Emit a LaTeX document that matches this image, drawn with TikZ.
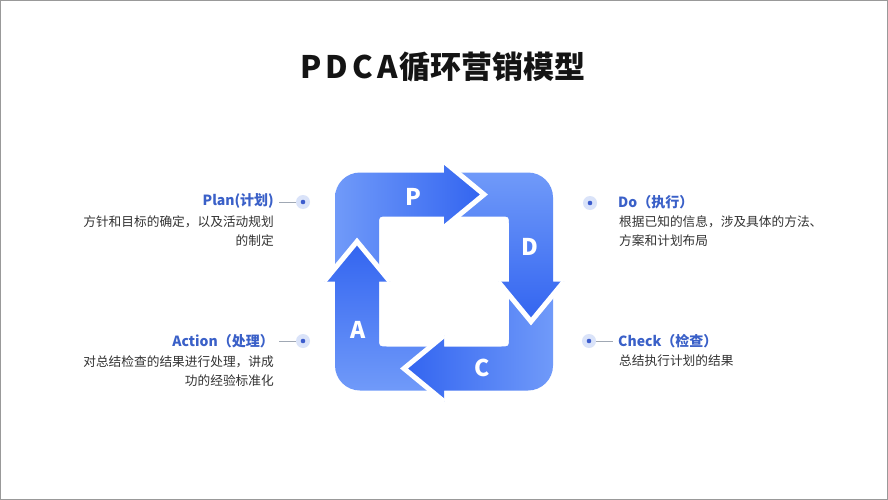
\documentclass[tikz,border=0pt]{standalone}
\usepackage{fontspec}
\setmainfont{Noto Sans CJK SC}
\definecolor{ringlight}{RGB}{112,154,249}
\definecolor{ringdark}{RGB}{50,100,240}
\definecolor{lblblue}{RGB}{58,96,200}
\definecolor{desc}{RGB}{51,51,51}
\definecolor{halo}{RGB}{218,227,249}
\definecolor{dotc}{RGB}{60,92,205}
\definecolor{linec}{RGB}{160,168,180}
\tikzset{
  seg/.style={draw=none},
  cut/.style={draw=white,line width=5pt,line join=miter,miter limit=10},
  letter/.style={text=white,font=\fontsize{23}{23}\selectfont\bfseries,inner sep=0pt},
  head/.style={text=lblblue,font=\fontsize{14}{16}\selectfont\bfseries,inner sep=0pt},
  descr/.style={text=desc,font=\fontsize{12.7}{19}\selectfont,inner sep=0pt},
  halodot/.style={circle,fill=halo,minimum size=14pt,inner sep=0pt},
  coredot/.style={circle,fill=dotc,minimum size=4.6pt,inner sep=0pt},
  leader/.style={draw=linec,line width=0.7pt}
}
\begin{document}
\begin{tikzpicture}[x=1pt,y=-1pt]
\useasboundingbox (0,0) rectangle (888,500);
\fill[white] (0,0) rectangle (888,500);
\draw[gray!80,line width=0.8pt] (0.4,0.4) rectangle (887.6,499.6);

% title
\node[font=\fontsize{31}{31}\selectfont\bfseries,text=black!92,inner sep=0pt] (title) at (443,67) {P\kern4ptD\kern4ptC\kern4ptA\kern2pt循环营销模型};

\begin{scope}[shift={(444,281.5)}]
% P segment (top)
\shade[seg,left color=ringlight,right color=ringdark]
 (-109,-15) -- (-87,-40) -- (-65,-15) -- (-65,-57) .. controls (-65,-65) .. (-57,-65) -- (0,-65) -- (0,-54) -- (40,-87) -- (0,-120) -- (0,-109) -- (-84,-109) .. controls (-97.8,-109) and (-109,-97.8) .. (-109,-84) -- cycle;
% D segment (right)
\shade[seg,top color=ringlight,bottom color=ringdark]
 (15,-109) -- (40,-87) -- (15,-65) -- (57,-65) .. controls (65,-65) .. (65,-57) -- (65,0) -- (54,0) -- (87,40) -- (120,0) -- (109,0) -- (109,-84) .. controls (109,-97.8) and (97.8,-109) .. (84,-109) -- cycle;
% C segment (bottom)
\shade[seg,right color=ringlight,left color=ringdark]
 (109,15) -- (87,40) -- (65,15) -- (65,57) .. controls (65,65) .. (57,65) -- (0,65) -- (0,54) -- (-40,87) -- (0,120) -- (0,109) -- (84,109) .. controls (97.8,109) and (109,97.8) .. (109,84) -- cycle;
% A segment (left)
\shade[seg,bottom color=ringlight,top color=ringdark]
 (-15,109) -- (-40,87) -- (-15,65) -- (-57,65) .. controls (-65,65) .. (-65,57) -- (-65,0) -- (-54,0) -- (-87,-40) -- (-120,0) -- (-109,0) -- (-109,84) .. controls (-109,97.8) and (-97.8,109) .. (-84,109) -- cycle;
% white cuts along the arrow heads
\coordinate (pt) at (40,-87);
\coordinate (dt) at (87,40);
\coordinate (ct) at (-40,87);
\coordinate (at) at (-87,-40);
\draw[cut] (0,-120) -- (pt) -- (0,-54);
\draw[cut] (120,0) -- (dt) -- (54,0);
\draw[cut] (0,120) -- (ct) -- (0,54);
\draw[cut] (-120,0) -- (at) -- (-54,0);
% letters
\node[letter] (lp) at (-31,-84.5) {P};
\node[letter] (ld) at (86,-34.5) {D};
\node[letter] (lc) at (38,86.5) {C};
\node[letter] (la) at (-86,48.5) {A};
\end{scope}

% Plan
\node[halodot] (plandot) at (303,202) {};
\node[coredot] at (plandot) {};
\node[head,anchor=east] (plan) at (274,201) {Plan(计划)};
\coordinate (pl1) at (279,202);
\draw[leader] (pl1) -- (plandot.west);
\node[descr,align=right,anchor=north east] (plandesc) at (274,215.5) {方针和目标的确定，以及活动规划\\的制定};

% Action
\node[halodot] (actdot) at (303,341) {};
\node[coredot] at (actdot) {};
\node[head,anchor=east] (act) at (274,341) {Action（处理）};
\coordinate (al1) at (279,341);
\draw[leader] (al1) -- (actdot.west);
\node[descr,align=right,anchor=north east] (actdesc) at (274,355.5) {对总结检查的结果进行处理，讲成\\功的经验标准化};

% Do
\node[halodot] (dodot) at (590,203) {};
\node[coredot] at (dodot) {};
\node[head,anchor=west] (do) at (618,202) {Do（执行）};
\node[descr,align=left,anchor=north west] (dodesc) at (619,215.5) {根据已知的信息，涉及具体的方法、\\方案和计划布局};

% Check
\node[halodot] (chkdot) at (589,341) {};
\node[coredot] at (chkdot) {};
\node[head,anchor=west] (chk) at (618,341) {Check（检查）};
\coordinate (cl1) at (613,341);
\draw[leader] (chkdot.east) -- (cl1);
\node[descr,align=left,anchor=north west] (chkdesc) at (619,354.5) {总结执行计划的结果};
\end{tikzpicture}
\end{document}
